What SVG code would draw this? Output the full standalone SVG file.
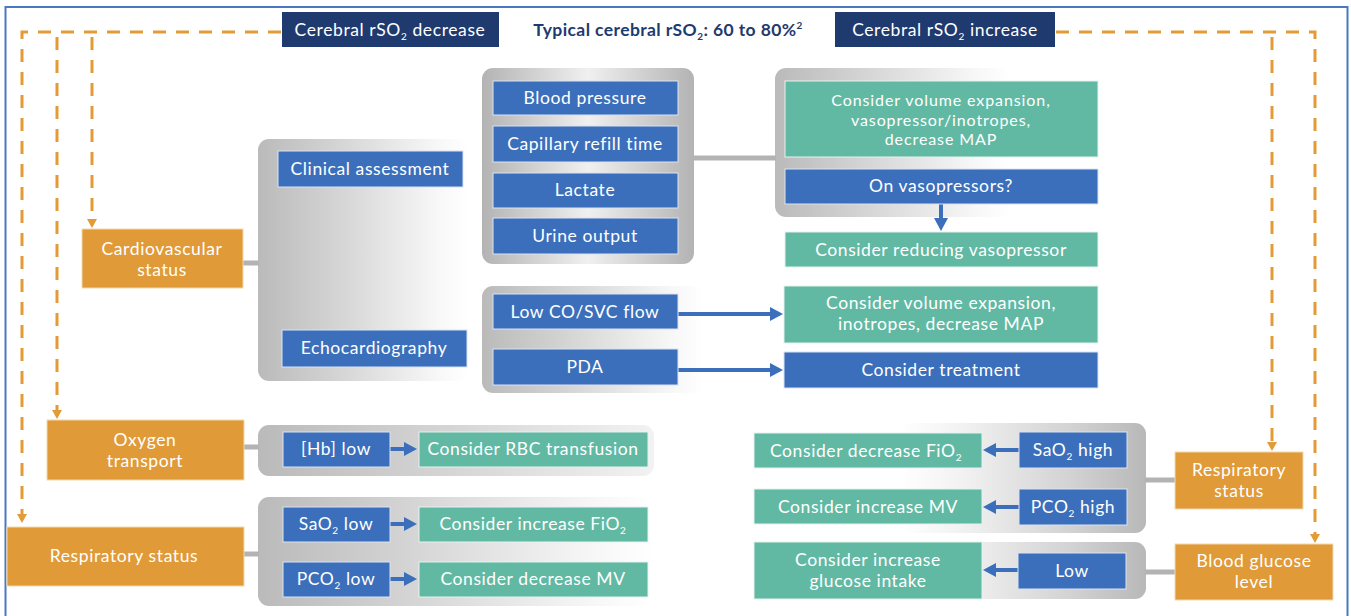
<svg xmlns="http://www.w3.org/2000/svg" width="1351" height="616" viewBox="0 0 1351 616">
<style>
.nv{fill:#1f3a6f}
.bl{fill:#3b6fbb;stroke:#d9e3f2;stroke-width:1}
.gr{fill:#61b9a3;stroke:#e3f2ed;stroke-width:1}
.or{fill:#e09a37;stroke:#f3d9b0;stroke-width:1}
.t{font-family:Lato,"Open Sans",sans-serif;font-size:17.5px;letter-spacing:0.6px;fill:#ffffff;text-anchor:middle}
.s3{font-size:16px;letter-spacing:0.9px}
.hd{font-family:Lato,"Open Sans",sans-serif;font-size:17.5px;letter-spacing:0.4px;font-weight:bold;fill:#1f3a6f;text-anchor:middle}
.conn{stroke:#b3b3b3;stroke-width:5;fill:none}
.dash{stroke:#e39b37;stroke-width:3;stroke-dasharray:13 10;fill:none}
.ar{stroke:#3b6fbb;stroke-width:4;fill:none}
</style>
<defs>
<linearGradient id="gL" x1="0" y1="0" x2="1" y2="0">
<stop offset="0" stop-color="#bababa"/>
<stop offset="0.35" stop-color="#d2d2d2"/>
<stop offset="0.85" stop-color="#f7f7f7"/>
<stop offset="1" stop-color="#ffffff"/>
</linearGradient>
<linearGradient id="gLw" x1="0" y1="0" x2="1" y2="0">
<stop offset="0" stop-color="#bababa"/>
<stop offset="0.5" stop-color="#d6d6d6"/>
<stop offset="1" stop-color="#f2f2f2"/>
</linearGradient>
<linearGradient id="gR" x1="0" y1="0" x2="1" y2="0">
<stop offset="0" stop-color="#ffffff"/>
<stop offset="0.25" stop-color="#f2f2f2"/>
<stop offset="0.7" stop-color="#d2d2d2"/>
<stop offset="1" stop-color="#b8b8b8"/>
</linearGradient>
<linearGradient id="gC" x1="0" y1="0" x2="1" y2="0">
<stop offset="0" stop-color="#b3b3b3"/>
<stop offset="0.5" stop-color="#f0f0f0"/>
<stop offset="1" stop-color="#b3b3b3"/>
</linearGradient>
<marker id="oa" markerWidth="10" markerHeight="10" refX="5" refY="5" orient="auto" markerUnits="userSpaceOnUse">
<path d="M0,0 L9,5 L0,10 z" fill="#e39b37"/>
</marker>
<marker id="ba" markerWidth="14" markerHeight="14" refX="7" refY="7" orient="auto" markerUnits="userSpaceOnUse">
<path d="M0,0 L13,7 L0,14 z" fill="#3b6fbb"/>
</marker>
</defs>
<rect x="0" y="0" width="1351" height="616" fill="#ffffff"/>
<rect x="5.5" y="7" width="1342" height="640" fill="none" stroke="#4a78c2" stroke-width="2"/>

<g id="panels">
<rect x="258" y="139" width="210" height="242" rx="11" fill="url(#gL)"/>
<rect x="482" y="68" width="212" height="196" rx="11" fill="url(#gC)"/>
<rect x="775" y="68" width="235" height="149" rx="11" fill="url(#gL)"/>
<rect x="482" y="286" width="222" height="107" rx="11" fill="url(#gL)"/>
<rect x="258" y="425" width="396" height="51" rx="11" fill="url(#gLw)"/>
<rect x="258" y="497" width="396" height="109" rx="11" fill="url(#gL)"/>
<rect x="900" y="423" width="246" height="110" rx="11" fill="url(#gR)"/>
<rect x="900" y="542" width="246" height="57" rx="11" fill="url(#gR)"/>
</g>

<g id="connectors">
<path class="dash" d="M281,32 H22 V519" marker-end="url(#oa)"/>
<path class="dash" d="M57,37 V415" marker-end="url(#oa)"/>
<path class="dash" d="M92,37 V224" marker-end="url(#oa)"/>
<path class="dash" d="M1056,32 H1315 V539" marker-end="url(#oa)"/>
<path class="dash" d="M1272,37 V447" marker-end="url(#oa)"/>
<line class="conn" x1="243" y1="263" x2="259" y2="263"/>
<line class="conn" x1="693" y1="158" x2="776" y2="158"/>
<line class="conn" x1="244" y1="447" x2="259" y2="447"/>
<line class="conn" x1="244" y1="554" x2="259" y2="554"/>
<line class="conn" x1="1145" y1="480" x2="1175" y2="480"/>
<line class="conn" x1="1145" y1="572" x2="1175" y2="572"/>
<line class="ar" x1="678" y1="314" x2="777" y2="314" marker-end="url(#ba)"/>
<line class="ar" x1="678" y1="370" x2="777" y2="370" marker-end="url(#ba)"/>
<line class="ar" x1="941" y1="204" x2="941" y2="225" marker-end="url(#ba)"/>
<line class="ar" x1="390" y1="449" x2="411" y2="449" marker-end="url(#ba)"/>
<line class="ar" x1="390" y1="524" x2="411" y2="524" marker-end="url(#ba)"/>
<line class="ar" x1="390" y1="579" x2="411" y2="579" marker-end="url(#ba)"/>
<line class="ar" x1="1019" y1="450" x2="989" y2="450" marker-end="url(#ba)"/>
<line class="ar" x1="1019" y1="507" x2="989" y2="507" marker-end="url(#ba)"/>
<line class="ar" x1="1018" y1="570" x2="989" y2="570" marker-end="url(#ba)"/>
</g>

<g id="header">
<text class="hd" x="668" y="36">Typical cerebral rSO<tspan font-size="10" dy="4">2</tspan><tspan dy="-4">: 60 to 80%</tspan><tspan font-size="10" dy="-7">2</tspan></text>
</g>
<g id="n-decrease"><rect class="nv" x="282" y="12" width="217" height="35"/><text class="t" x="390" y="36">Cerebral rSO<tspan font-size="10" dy="4">2</tspan><tspan dy="-4"> decrease</tspan></text></g>
<g id="n-increase"><rect class="nv" x="835" y="12" width="220" height="35"/><text class="t" x="945" y="36">Cerebral rSO<tspan font-size="10" dy="4">2</tspan><tspan dy="-4">  increase</tspan></text></g>

<g id="n-cardio"><rect class="or" x="82" y="229" width="161" height="59"/><text class="t" x="162" y="255">Cardiovascular</text><text class="t" x="162" y="276">status</text></g>
<g id="n-clinical"><rect class="bl" x="278" y="151" width="185" height="36"/><text class="t" x="370" y="175">Clinical assessment</text></g>
<g id="n-echo"><rect class="bl" x="282" y="330" width="185" height="37"/><text class="t" x="374" y="354">Echocardiography</text></g>
<g id="n-bp"><rect class="bl" x="493" y="81" width="185" height="34"/><text class="t" x="585" y="104">Blood pressure</text></g>
<g id="n-cap"><rect class="bl" x="493" y="126" width="185" height="36"/><text class="t" x="585" y="150">Capillary refill time</text></g>
<g id="n-lact"><rect class="bl" x="493" y="173" width="185" height="35"/><text class="t" x="585" y="196">Lactate</text></g>
<g id="n-urine"><rect class="bl" x="493" y="218" width="185" height="36"/><text class="t" x="585" y="242">Urine output</text></g>
<g id="n-cve1"><rect class="gr" x="785" y="81" width="313" height="76"/><text class="t s3" x="941" y="106">Consider volume expansion,</text><text class="t s3" x="941" y="125.5">vasopressor/inotropes,</text><text class="t s3" x="941" y="145">decrease MAP</text></g>
<g id="n-onvaso"><rect class="bl" x="785" y="169" width="313" height="35"/><text class="t" x="941" y="192">On vasopressors?</text></g>
<g id="n-reduce"><rect class="gr" x="785" y="232" width="313" height="35"/><text class="t" x="941" y="256">Consider reducing vasopressor</text></g>
<g id="n-lowco"><rect class="bl" x="493" y="294" width="185" height="35"/><text class="t" x="585" y="318">Low CO/SVC flow</text></g>
<g id="n-pda"><rect class="bl" x="493" y="349" width="185" height="36"/><text class="t" x="585" y="373">PDA</text></g>
<g id="n-cve2"><rect class="gr" x="784" y="286" width="314" height="57"/><text class="t" x="941" y="309">Consider volume expansion,</text><text class="t" x="941" y="330">inotropes, decrease MAP</text></g>
<g id="n-treat"><rect class="bl" x="784" y="352" width="314" height="36"/><text class="t" x="941" y="376">Consider treatment</text></g>

<g id="n-oxygen"><rect class="or" x="47" y="420" width="197" height="60"/><text class="t" x="145" y="446">Oxygen</text><text class="t" x="145" y="467">transport</text></g>
<g id="n-hb"><rect class="bl" x="283" y="432" width="107" height="35"/><text class="t" x="336" y="455">[Hb] low</text></g>
<g id="n-rbc"><rect class="gr" x="419" y="432" width="229" height="35"/><text class="t" x="533" y="455">Consider RBC transfusion</text></g>
<g id="n-respL"><rect class="or" x="7" y="527" width="237" height="59"/><text class="t" x="124" y="562">Respiratory status</text></g>
<g id="n-sao2low"><rect class="bl" x="283" y="507" width="107" height="35"/><text class="t" x="336" y="530">SaO<tspan font-size="10" dy="4">2</tspan><tspan dy="-4"> low</tspan></text></g>
<g id="n-incfio2"><rect class="gr" x="419" y="507" width="229" height="35"/><text class="t" x="533" y="530">Consider increase FiO<tspan font-size="10" dy="4">2</tspan></text></g>
<g id="n-pco2low"><rect class="bl" x="283" y="562" width="107" height="35"/><text class="t" x="336" y="585">PCO<tspan font-size="10" dy="4">2</tspan><tspan dy="-4"> low</tspan></text></g>
<g id="n-decmv"><rect class="gr" x="419" y="562" width="229" height="35"/><text class="t" x="533" y="585">Consider decrease MV</text></g>

<g id="n-decfio2"><rect class="gr" x="754" y="433" width="228" height="35"/><text class="t" x="866" y="457">Consider decrease FiO<tspan font-size="10" dy="4">2</tspan></text></g>
<g id="n-sao2high"><rect class="bl" x="1019" y="432" width="108" height="36"/><text class="t" x="1073" y="456">SaO<tspan font-size="10" dy="4">2</tspan><tspan dy="-4"> high</tspan></text></g>
<g id="n-incmv"><rect class="gr" x="754" y="489" width="228" height="35"/><text class="t" x="868" y="513">Consider increase MV</text></g>
<g id="n-pco2high"><rect class="bl" x="1019" y="489" width="108" height="36"/><text class="t" x="1073" y="513">PCO<tspan font-size="10" dy="4">2</tspan><tspan dy="-4"> high</tspan></text></g>
<g id="n-glucose-intake"><rect class="gr" x="754" y="542" width="228" height="57"/><text class="t" x="868" y="566">Consider increase</text><text class="t" x="868" y="587">glucose intake</text></g>
<g id="n-low"><rect class="bl" x="1018" y="553" width="108" height="36"/><text class="t" x="1072" y="577">Low</text></g>
<g id="n-respR"><rect class="or" x="1175" y="452" width="128" height="57"/><text class="t" x="1239" y="476">Respiratory</text><text class="t" x="1239" y="497">status</text></g>
<g id="n-glucose"><rect class="or" x="1175" y="544" width="158" height="56"/><text class="t" x="1254" y="567">Blood glucose</text><text class="t" x="1254" y="588">level</text></g>
</svg>
